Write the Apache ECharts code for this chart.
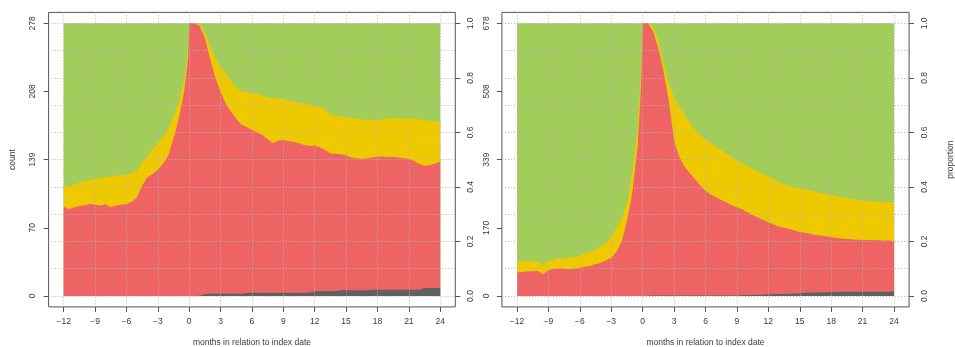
<!DOCTYPE html>
<html>
<head>
<meta charset="utf-8">
<script src="https://cdn.jsdelivr.net/npm/echarts@6/dist/echarts.min.js"></script>
<style>
html,body{margin:0;padding:0;background:#fff;}
#c{width:955px;height:347px;}
</style>
</head>
<body>
<div id="c"></div>
<script>
// ---- data ----
const months = [-12,-11.5,-11,-10.5,-10,-9.5,-9,-8.5,-8,-7.5,-7,-6.5,-6,-5.5,-5,-4.5,-4,-3.5,-3,-2.5,-2,-1.5,-1,-0.5,-0.25,-0.1,
  0,0.5,1,1.5,2,2.5,3,3.5,4,4.5,5,5.5,6,6.5,7,7.5,8,8.5,9,9.5,10,10.5,11,11.5,12,12.5,13,13.5,14,14.5,15,15.5,16,16.5,17,17.5,18,18.5,19,19.5,20,20.5,21,21.5,22,22.5,23,23.5,24];

// left panel: upper boundary (cumulative proportion) of each band
const redTopL = [0.328,0.318,0.325,0.330,0.332,0.338,0.335,0.332,0.336,0.325,0.332,0.335,0.337,0.345,0.362,0.405,0.435,0.447,0.463,0.485,0.515,0.578,0.650,0.745,0.820,0.880,
  1.0,1.0,0.99,0.945,0.87,0.80,0.75,0.705,0.676,0.65,0.628,0.62,0.609,0.60,0.59,0.575,0.56,0.57,0.572,0.568,0.566,0.56,0.554,0.55,0.552,0.545,0.535,0.523,0.522,0.52,0.515,0.508,0.505,0.502,0.505,0.508,0.511,0.512,0.51,0.511,0.508,0.505,0.503,0.495,0.485,0.478,0.48,0.485,0.493];
const yellowTopL = [0.412,0.40,0.41,0.415,0.42,0.425,0.43,0.432,0.437,0.436,0.441,0.443,0.446,0.45,0.46,0.49,0.512,0.538,0.56,0.582,0.612,0.66,0.71,0.79,0.86,0.92,
  1.0,1.0,1.0,0.965,0.915,0.875,0.84,0.815,0.79,0.765,0.752,0.748,0.743,0.74,0.733,0.728,0.724,0.726,0.723,0.716,0.713,0.709,0.706,0.702,0.697,0.694,0.683,0.665,0.662,0.658,0.656,0.654,0.651,0.647,0.645,0.646,0.645,0.648,0.65,0.652,0.652,0.651,0.652,0.65,0.646,0.645,0.643,0.641,0.638];
const greyTopL = [0,0,0,0,0,0,0,0,0,0,0,0,0,0,0,0,0,0,0,0,0,0,0,0,0,0,
  0,0,0.001,0.007,0.008,0.008,0.008,0.008,0.008,0.008,0.008,0.011,0.012,0.012,0.012,0.012,0.012,0.012,0.012,0.012,0.012,0.012,0.012,0.012,0.017,0.017,0.017,0.017,0.017,0.021,0.021,0.021,0.021,0.021,0.021,0.023,0.023,0.023,0.023,0.023,0.023,0.023,0.023,0.023,0.023,0.029,0.029,0.029,0.030];

// right panel
const redTopR = [0.086,0.088,0.09,0.091,0.092,0.08,0.094,0.099,0.101,0.10,0.098,0.10,0.104,0.107,0.11,0.117,0.122,0.13,0.14,0.162,0.20,0.275,0.375,0.54,0.70,0.83,
  1.0,1.0,0.97,0.908,0.823,0.715,0.57,0.51,0.475,0.45,0.428,0.405,0.385,0.372,0.362,0.352,0.343,0.333,0.325,0.317,0.307,0.297,0.287,0.28,0.27,0.262,0.255,0.25,0.246,0.24,0.235,0.232,0.228,0.224,0.222,0.219,0.216,0.213,0.211,0.209,0.208,0.206,0.205,0.205,0.204,0.206,0.203,0.204,0.20];
const yellowTopR = [0.126,0.127,0.128,0.127,0.126,0.114,0.128,0.133,0.138,0.137,0.14,0.143,0.148,0.156,0.162,0.17,0.182,0.195,0.215,0.25,0.285,0.335,0.45,0.61,0.76,0.87,
  1.0,1.0,0.99,0.935,0.85,0.78,0.73,0.695,0.665,0.635,0.61,0.59,0.574,0.56,0.548,0.535,0.523,0.51,0.499,0.487,0.474,0.465,0.456,0.447,0.438,0.428,0.418,0.41,0.404,0.399,0.395,0.391,0.386,0.382,0.378,0.374,0.37,0.366,0.362,0.358,0.355,0.352,0.35,0.348,0.346,0.345,0.344,0.343,0.34];
const greyTopR = [0,0,0,0,0,0,0,0,0,0,0,0,0,0,0,0,0,0,0,0,0,0,0,0,0,0,
  0,0,0.002,0.002,0.002,0.002,0.002,0.002,0.002,0.002,0.002,0.002,0.002,0.002,0.002,0.002,0.002,0.002,0.002,0.003,0.004,0.004,0.005,0.005,0.006,0.006,0.007,0.007,0.008,0.009,0.010,0.012,0.013,0.013,0.014,0.014,0.015,0.015,0.016,0.016,0.016,0.016,0.016,0.016,0.016,0.016,0.016,0.016,0.017];
const greenTop = 1.0;

const xTicks = [-12,-9,-6,-3,0,3,6,9,12,15,18,21,24];
const xTickLabels = ["\u221212","\u22129","\u22126","\u22123","0","3","6","9","12","15","18","21","24"];
const countTickPos = [0,0.25,0.5,0.75,1];
const countLabelsL = ["0","70","139","208","278"];
const countLabelsR = ["0","170","339","508","678"];
const propTicks = [0,0.2,0.4,0.6,0.8,1.0];
const propLabels = ["0.0","0.2","0.4","0.6","0.8","1.0"];
const gridTicksY = [0,0.1,0.2,0.3,0.4,0.5,0.6,0.7,0.8,0.9,1.0];

// ---- chart ----
const FONT = 'Liberation Sans, Arial, sans-serif';
const TXT = '#3a3a3a';
const FRAME = '#555555';
const GRIDC = '#b4b4b4';
const GRIDDASH = [1, 2];
const COLORS = {green:'#A2CD5A', yellow:'#EEC900', red:'#EE6363', grey:'#606060'};

const grids = [
  {left:48.6, top:12.4, width:406.7, height:294.5},
  {left:501.9, top:12.4, width:407.2, height:294.5}
];

const xAxes = [], yAxes = [], series = [];
const panels = [
  {red:redTopL, yellow:yellowTopL, grey:greyTopL, counts:countLabelsL, leftName:'count', rightName:''},
  {red:redTopR, yellow:yellowTopR, grey:greyTopR, counts:countLabelsR, leftName:'', rightName:'proportion'}
];

panels.forEach((p, i) => {
  xAxes.push({
    type:'value', gridIndex:i, min:-13.44, max:25.44, z:5,
    axisLine:{show:false, onZero:false},
    axisTick:{show:true, customValues:xTicks, length:5, lineStyle:{color:FRAME}},
    axisLabel:{customValues:xTicks, margin:10, color:TXT, fontFamily:FONT, fontSize:8.5,
      formatter:(v)=>{const k=xTicks.indexOf(v); return k>=0?xTickLabels[k]:'';}},
    splitLine:{show:true, lineStyle:{color:GRIDC, type:GRIDDASH, width:1}},
    name:'months in relation to index date', nameLocation:'middle', nameGap:31,
    nameTextStyle:{color:TXT, fontFamily:FONT, fontSize:8.5}
  });
  const base = yAxes.length;
  yAxes.push({
    type:'value', gridIndex:i, position:'left', min:-0.04, max:1.04, z:5,
    axisLine:{show:false, onZero:false},
    axisTick:{show:true, customValues:countTickPos, length:5, lineStyle:{color:FRAME}},
    axisLabel:{customValues:countTickPos, rotate:90, margin:11, color:TXT, fontFamily:FONT, fontSize:8.5,
      formatter:(v)=>{const k=countTickPos.findIndex(t=>Math.abs(t-v)<1e-6); return k>=0?p.counts[k]:'';}},
    splitLine:{show:false},
    name:p.leftName, nameLocation:'middle', nameGap:31, nameRotate:90,
    nameTextStyle:{color:TXT, fontFamily:FONT, fontSize:8.5}
  });
  yAxes.push({
    type:'value', gridIndex:i, position:'right', min:-0.04, max:1.04, z:5,
    axisLine:{show:false, onZero:false},
    axisTick:{show:true, customValues:propTicks, length:5, lineStyle:{color:FRAME}},
    axisLabel:{customValues:propTicks, rotate:90, margin:11, color:TXT, fontFamily:FONT, fontSize:8.5,
      formatter:(v)=>{const k=propTicks.findIndex(t=>Math.abs(t-v)<1e-6); return k>=0?propLabels[k]:'';}},
    splitLine:{show:false},
    name:p.rightName, nameLocation:'middle', nameGap:37, nameRotate:90,
    nameTextStyle:{color:TXT, fontFamily:FONT, fontSize:8.5}
  });
  yAxes.push({
    type:'value', gridIndex:i, position:'left', min:-0.04, max:1.04, z:5,
    axisLine:{show:false, onZero:false},
    axisTick:{show:false, customValues:gridTicksY},
    axisLabel:{show:false, customValues:gridTicksY},
    splitLine:{show:true, lineStyle:{color:GRIDC, type:GRIDDASH, width:1}}
  });
  const mk = (name, vals, color) => ({
    name, type:'line', xAxisIndex:i, yAxisIndex:base, z:2,
    data: months.map((m, k) => [m, Array.isArray(vals) ? vals[k] : vals]),
    showSymbol:false, symbol:'none', smooth:false, silent:true, animation:false,
    lineStyle:{width:0, opacity:0},
    areaStyle:{color, opacity:1, origin:0},
    itemStyle:{color}
  });
  series.push(mk('green', greenTop, COLORS.green));
  series.push(mk('yellow', p.yellow, COLORS.yellow));
  series.push(mk('red', p.red, COLORS.red));
  series.push(mk('grey', p.grey, COLORS.grey));
});

const chart = echarts.init(document.getElementById('c'), null, {renderer:'canvas'});
chart.setOption({
  animation:false,
  backgroundColor:'#ffffff',
  grid: grids.map(g => Object.assign({show:true, borderColor:FRAME, borderWidth:1, backgroundColor:'transparent', containLabel:false, outerBoundsMode:'none'}, g)),
  xAxis: xAxes,
  yAxis: yAxes,
  series
});
</script>
</body>
</html>
